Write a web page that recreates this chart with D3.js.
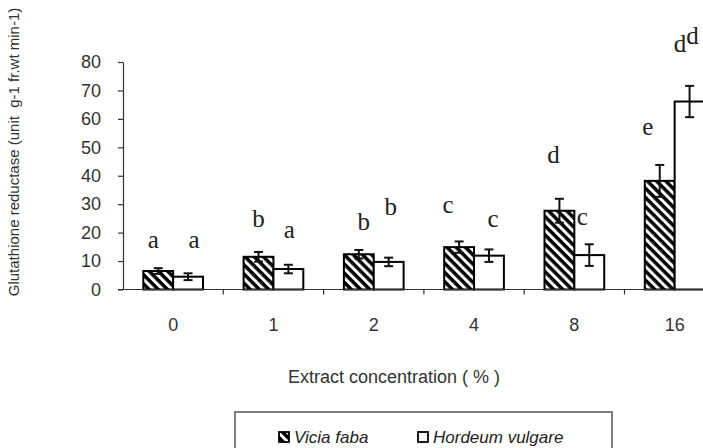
<!DOCTYPE html>
<html>
<head>
<meta charset="utf-8">
<script src="https://cdn.jsdelivr.net/npm/d3@7"></script>
<style>
  body { margin: 0; background: #fff; overflow: hidden; }
  svg { display: block; }
  .axis text { font-family: Arial, "Liberation Sans", sans-serif; font-size: 18px; fill: #333; }
  .axis path, .axis line { stroke: #333; stroke-width: 1.2; }
</style>
</head>
<body>
<div id="chart"></div>
<script>
// data
const categories = ['0', '1', '2', '4', '8', '16'];
const series = ['Vicia faba', 'Hordeum vulgare'];
const viciaValues = [6.5, 11.5, 12.4, 14.9, 27.7, 38.2];
const viciaErrors = [1.0, 1.7, 1.5, 2.0, 4.2, 5.6];
const hordeumValues = [4.5, 7.2, 9.7, 11.9, 12.1, 66.1];
const hordeumErrors = [1.2, 1.5, 1.5, 2.2, 3.8, 5.5];
const viciaLetters = ['a', 'b', 'b', 'c', 'd', 'e'];
const viciaLetterHeights = [14.6, 22.0, 21.0, 26.9, 44.5, 54.4];
const hordeumLetters = ['a', 'a', 'b', 'c', 'c', 'd'];
const hordeumLetterHeights = [14.6, 18.1, 26.2, 22.0, 22.7, 83.6];
const yTicks = [0, 10, 20, 30, 40, 50, 60, 70, 80];

const width = 703, height = 448;
const plotLeft = 123, plotBottom = 289.5, plotTop = 62;
const step = 100.3;

const svg = d3.select('#chart').append('svg')
  .attr('width', width)
  .attr('height', height);

// hatch for Vicia faba
const defs = svg.append('defs');
const pat = defs.append('pattern')
  .attr('id', 'hatch')
  .attr('patternUnits', 'userSpaceOnUse')
  .attr('width', 6.5)
  .attr('height', 6.5)
  .attr('patternTransform', 'rotate(-45)');
pat.append('rect').attr('width', 6.5).attr('height', 6.5).attr('fill', '#000');
pat.append('rect').attr('x', 0).attr('width', 3).attr('height', 6.5).attr('fill', '#fff');

// scales
const x0 = d3.scaleBand().domain(categories).range([plotLeft, plotLeft + 6 * step]).padding(0);
const x1 = d3.scaleBand().domain(series).range([0, x0.bandwidth()]).paddingInner(0).paddingOuter(0.68);
const y = d3.scaleLinear().domain([0, 80]).range([plotBottom, plotTop]);

const rows = categories.map((c, i) => [
  { cat: c, s: series[0], v: viciaValues[i], e: viciaErrors[i], fill: 'url(#hatch)' },
  { cat: c, s: series[1], v: hordeumValues[i], e: hordeumErrors[i], fill: '#fff' }
]).flat();

// bars
svg.append('g').selectAll('rect')
  .data(rows)
  .enter()
  .append('rect')
  .attr('x', d => x0(d.cat) + x1(d.s))
  .attr('y', d => y(d.v))
  .attr('width', x1.bandwidth())
  .attr('height', d => y(0) - y(d.v))
  .attr('fill', d => d.fill)
  .attr('stroke', '#000')
  .attr('stroke-width', 2);

// error bars
const eb = svg.append('g').attr('stroke', '#111').attr('stroke-width', 2);
rows.forEach(d => {
  const cx = x0(d.cat) + x1(d.s) + x1.bandwidth() / 2;
  eb.append('line').attr('x1', cx).attr('x2', cx).attr('y1', y(d.v + d.e)).attr('y2', y(d.v - d.e));
  eb.append('line').attr('x1', cx - 4.5).attr('x2', cx + 4.5).attr('y1', y(d.v + d.e)).attr('y2', y(d.v + d.e));
  eb.append('line').attr('x1', cx - 4.5).attr('x2', cx + 4.5).attr('y1', y(d.v - d.e)).attr('y2', y(d.v - d.e));
});

// axes
const yAxis = d3.axisLeft(y).tickValues(yTicks).tickSize(5).tickPadding(17).tickSizeOuter(0);
svg.append('g').attr('class', 'axis')
  .attr('transform', `translate(${plotLeft},0)`)
  .call(yAxis);

svg.append('line')
  .attr('x1', plotLeft - 5).attr('x2', plotLeft + 6 * step)
  .attr('y1', plotBottom).attr('y2', plotBottom)
  .attr('stroke', '#333').attr('stroke-width', 1.2);

// x ticks between groups
svg.append('g').selectAll('line')
  .data(categories.slice(1))
  .enter()
  .append('line')
  .attr('x1', d => x0(d)).attr('x2', d => x0(d))
  .attr('y1', plotBottom).attr('y2', plotBottom + 5)
  .attr('stroke', '#333').attr('stroke-width', 1.2);

svg.append('g').attr('class', 'axis').selectAll('text')
  .data(categories)
  .enter()
  .append('text')
  .attr('x', d => x0(d) + x0.bandwidth() / 2)
  .attr('y', plotBottom + 41)
  .attr('text-anchor', 'middle')
  .text(d => d);

// significance letters
const nudgeV = [-5, 0, 5, -11, -6, -12];
const nudgeH = [6, 1, 2, 4, -7, -12];
const letters = svg.append('g')
  .attr('font-family', '"Liberation Serif", "Times New Roman", serif')
  .attr('font-size', 25)
  .attr('fill', '#222')
  .attr('text-anchor', 'middle');
categories.forEach((c, i) => {
  letters.append('text')
    .attr('x', x0(c) + x1(series[0]) + x1.bandwidth() / 2 + nudgeV[i])
    .attr('y', y(viciaLetterHeights[i]))
    .text(viciaLetters[i]);
  const t = letters.append('text')
    .attr('x', x0(c) + x1(series[1]) + x1.bandwidth() / 2 + nudgeH[i])
    .attr('y', y(hordeumLetterHeights[i]))
    .attr('text-anchor', i === 5 ? 'start' : 'middle')
    .text(hordeumLetters[i]);
  if (i === 5) {
    t.attr('x', x0(c) + x1(series[1]) - 1);
    t.append('tspan').attr('dy', -8).text(hordeumLetters[i]);
  }
});

// axis titles
svg.append('text')
  .attr('transform', `translate(19, 152) rotate(-90)`)
  .attr('text-anchor', 'middle')
  .attr('font-family', 'Arial, "Liberation Sans", sans-serif')
  .attr('font-size', 15)
  .attr('fill', '#333')
  .style('white-space', 'pre')
  .text('Glutathione reductase (unit  g-1 fr.wt min-1)');

svg.append('text')
  .attr('x', 394)
  .attr('y', 383)
  .attr('text-anchor', 'middle')
  .attr('font-family', 'Arial, "Liberation Sans", sans-serif')
  .attr('font-size', 18)
  .attr('fill', '#333')
  .text('Extract concentration ( % )');

// legend
const lg = svg.append('g');
lg.append('rect')
  .attr('x', 235).attr('y', 412)
  .attr('width', 377).attr('height', 60)
  .attr('fill', 'none').attr('stroke', '#555').attr('stroke-width', 1.5);
const legendItems = [
  { name: series[0], fill: 'url(#hatch)', x: 279 },
  { name: series[1], fill: '#fff', x: 418 }
];
legendItems.forEach(d => {
  lg.append('rect')
    .attr('x', d.x).attr('y', 432).attr('width', 10).attr('height', 10)
    .attr('fill', d.fill).attr('stroke', '#000').attr('stroke-width', 1.8);
  lg.append('text')
    .attr('x', d.x + 15).attr('y', 443)
    .attr('font-family', 'Arial, "Liberation Sans", sans-serif')
    .attr('font-size', 17)
    .attr('font-style', 'italic')
    .attr('fill', '#222')
    .text(d.name);
});
</script>
</body>
</html>
